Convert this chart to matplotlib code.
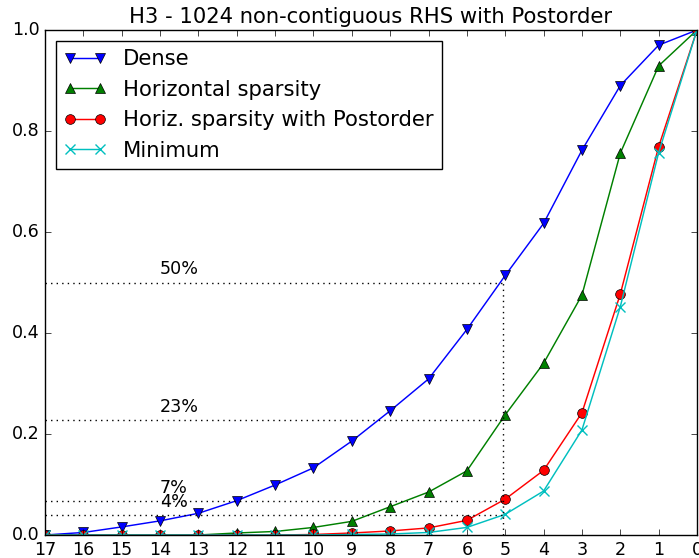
import matplotlib
matplotlib.use("Agg")
import matplotlib.pyplot as plt

plt.style.use("classic")
plt.rcParams["xtick.labelsize"] = 12.6
plt.rcParams["ytick.labelsize"] = 12.6

# Remaining number of levels (x axis, read right-to-left)
levels = [17, 16, 15, 14, 13, 12, 11, 10, 9, 8, 7, 6, 5, 4, 3, 2, 1, 0]

dense = [0.0, 0.005, 0.016, 0.028, 0.043, 0.068, 0.099, 0.133, 0.186, 0.246,
         0.309, 0.407, 0.514, 0.617, 0.762, 0.890, 0.970, 1.0]
horiz = [0.0, 0.0, 0.0, 0.0, 0.0, 0.004, 0.007, 0.015, 0.027, 0.056,
         0.085, 0.127, 0.238, 0.340, 0.475, 0.756, 0.929, 1.0]
horiz_post = [0.0, 0.0, 0.0, 0.0, 0.0, 0.0, 0.0, 0.001, 0.004, 0.008,
              0.014, 0.029, 0.071, 0.128, 0.242, 0.477, 0.769, 1.0]
minimum = [0.0, 0.0, 0.0, 0.0, 0.0, 0.0, 0.0, 0.0, 0.001, 0.002,
           0.005, 0.015, 0.041, 0.087, 0.208, 0.452, 0.757, 1.0]

# Reference cut where the dense curve reaches 50 %
cut_x = 5.07
cut_levels = [0.50, 0.227, 0.067, 0.039]
cut_labels = ["50%", "23%", "7%", "4%"]
label_x = 14

fig = plt.figure(figsize=(6.99, 5.58), dpi=100)
ax = fig.add_axes([45 / 699, 1 - 535 / 558, 652 / 699, 505 / 558])

ms = 7
lw = 1.05
ax.plot(levels, dense, "b-", lw=lw, marker="v", ms=ms, mec="k", mew=0.5,
        label="Dense")
ax.plot(levels, horiz, "g-", lw=lw, marker="^", ms=ms, mec="k", mew=0.5,
        label="Horizontal sparsity")
ax.plot(levels, horiz_post, "r-", lw=lw, marker="o", ms=ms, mec="k", mew=0.5,
        label="Horiz. sparsity with Postorder")
ax.plot(levels, minimum, "c-", lw=lw, marker="x", ms=ms, mec="c", mew=1.0,
        label="Minimum")

for lvl, txt in zip(cut_levels, cut_labels):
    ax.plot([levels[0], cut_x], [lvl, lvl], "k:", lw=1)
    ax.text(label_x, lvl + 0.009, txt, ha="left", va="bottom", fontsize=12.6)
ax.plot([cut_x, cut_x], [0, cut_levels[0]], "k:", lw=1)

ax.set_xlim(17, 0)
ax.set_ylim(0, 1)
ax.set_xticks(levels)
ax.set_yticks([0.0, 0.2, 0.4, 0.6, 0.8, 1.0])
ax.set_title("H3 - 1024 non-contiguous RHS with Postorder", fontsize=15.2)
ax.legend(loc="upper left", numpoints=2, fontsize=15.2)

fig.savefig("out.png", dpi=100)
